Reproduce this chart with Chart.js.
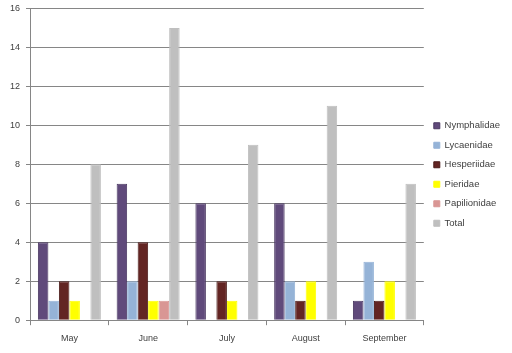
<!DOCTYPE html>
<html>
<head>
<meta charset="utf-8">
<script src="https://cdn.jsdelivr.net/npm/chart.js@4"></script>
<style>
  html, body { margin: 0; padding: 0; background: #fff; overflow: hidden; }
  #wrap { width: 512px; height: 356px; position: relative; margin-top: -3px; }
</style>
</head>
<body>
<div id="wrap"><canvas id="butterflyChart"></canvas></div>
<script>
// Datos
var months = ['May', 'June', 'July', 'August', 'September'];
var nymphalidae = [4, 7, 6, 6, 1];
var lycaenidae = [1, 2, 0, 2, 3];
var hesperiidae = [2, 4, 2, 1, 1];
var pieridae = [1, 1, 1, 2, 2];
var papilionidae = [0, 1, 0, 0, 0];
var total = [8, 15, 9, 11, 7];

document.addEventListener('DOMContentLoaded', function() {
    var ctx = document.getElementById('butterflyChart').getContext('2d');
    var fontFamily = "'Liberation Sans', 'DejaVu Sans', sans-serif";

    function serie(label, data, color, border) {
        return {
            label: label,
            data: data,
            backgroundColor: color,
            borderColor: border,
            borderWidth: 1,
            categoryPercentage: 0.8,
            barPercentage: 1.0
        };
    }

    new Chart(ctx, {
        type: 'bar',
        data: {
            labels: months,
            datasets: [
                serie('Nymphalidae', nymphalidae, '#604a7b', '#4a3862'),
                serie('Lycaenidae', lycaenidae, '#95b3d7', '#95b3d7'),
                serie('Hesperiidae', hesperiidae, '#632523', '#4a1a18'),
                serie('Pieridae', pieridae, '#ffff00', '#ffff00'),
                serie('Papilionidae', papilionidae, '#d99694', '#d99694'),
                serie('Total', total, '#bfbfbf', '#bfbfbf')
            ]
        },
        options: {
            responsive: true,
            maintainAspectRatio: false,
            animation: false,
            layout: { padding: { top: 0, right: 2, bottom: 1, left: 4 } },
            plugins: {
                legend: {
                    position: 'right',
                    labels: {
                        boxWidth: 6,
                        boxHeight: 6,
                        padding: 10,
                        color: '#404040',
                        font: { family: fontFamily, size: 9.5 }
                    }
                },
                tooltip: { enabled: false }
            },
            scales: {
                x: {
                    offset: true,
                    grid: {
                        offset: true,
                        drawOnChartArea: false,
                        drawTicks: true,
                        tickLength: 5,
                        color: '#868686'
                    },
                    border: { color: '#868686' },
                    ticks: {
                        color: '#404040',
                        padding: 8,
                        font: { family: fontFamily, size: 9 }
                    }
                },
                y: {
                    min: 0,
                    max: 16,
                    ticks: {
                        stepSize: 2,
                        color: '#404040',
                        padding: 6,
                        font: { family: fontFamily, size: 9 }
                    },
                    grid: {
                        color: '#868686',
                        tickLength: 4
                    },
                    border: { color: '#868686' }
                }
            }
        }
    });
});
</script>
</body>
</html>
